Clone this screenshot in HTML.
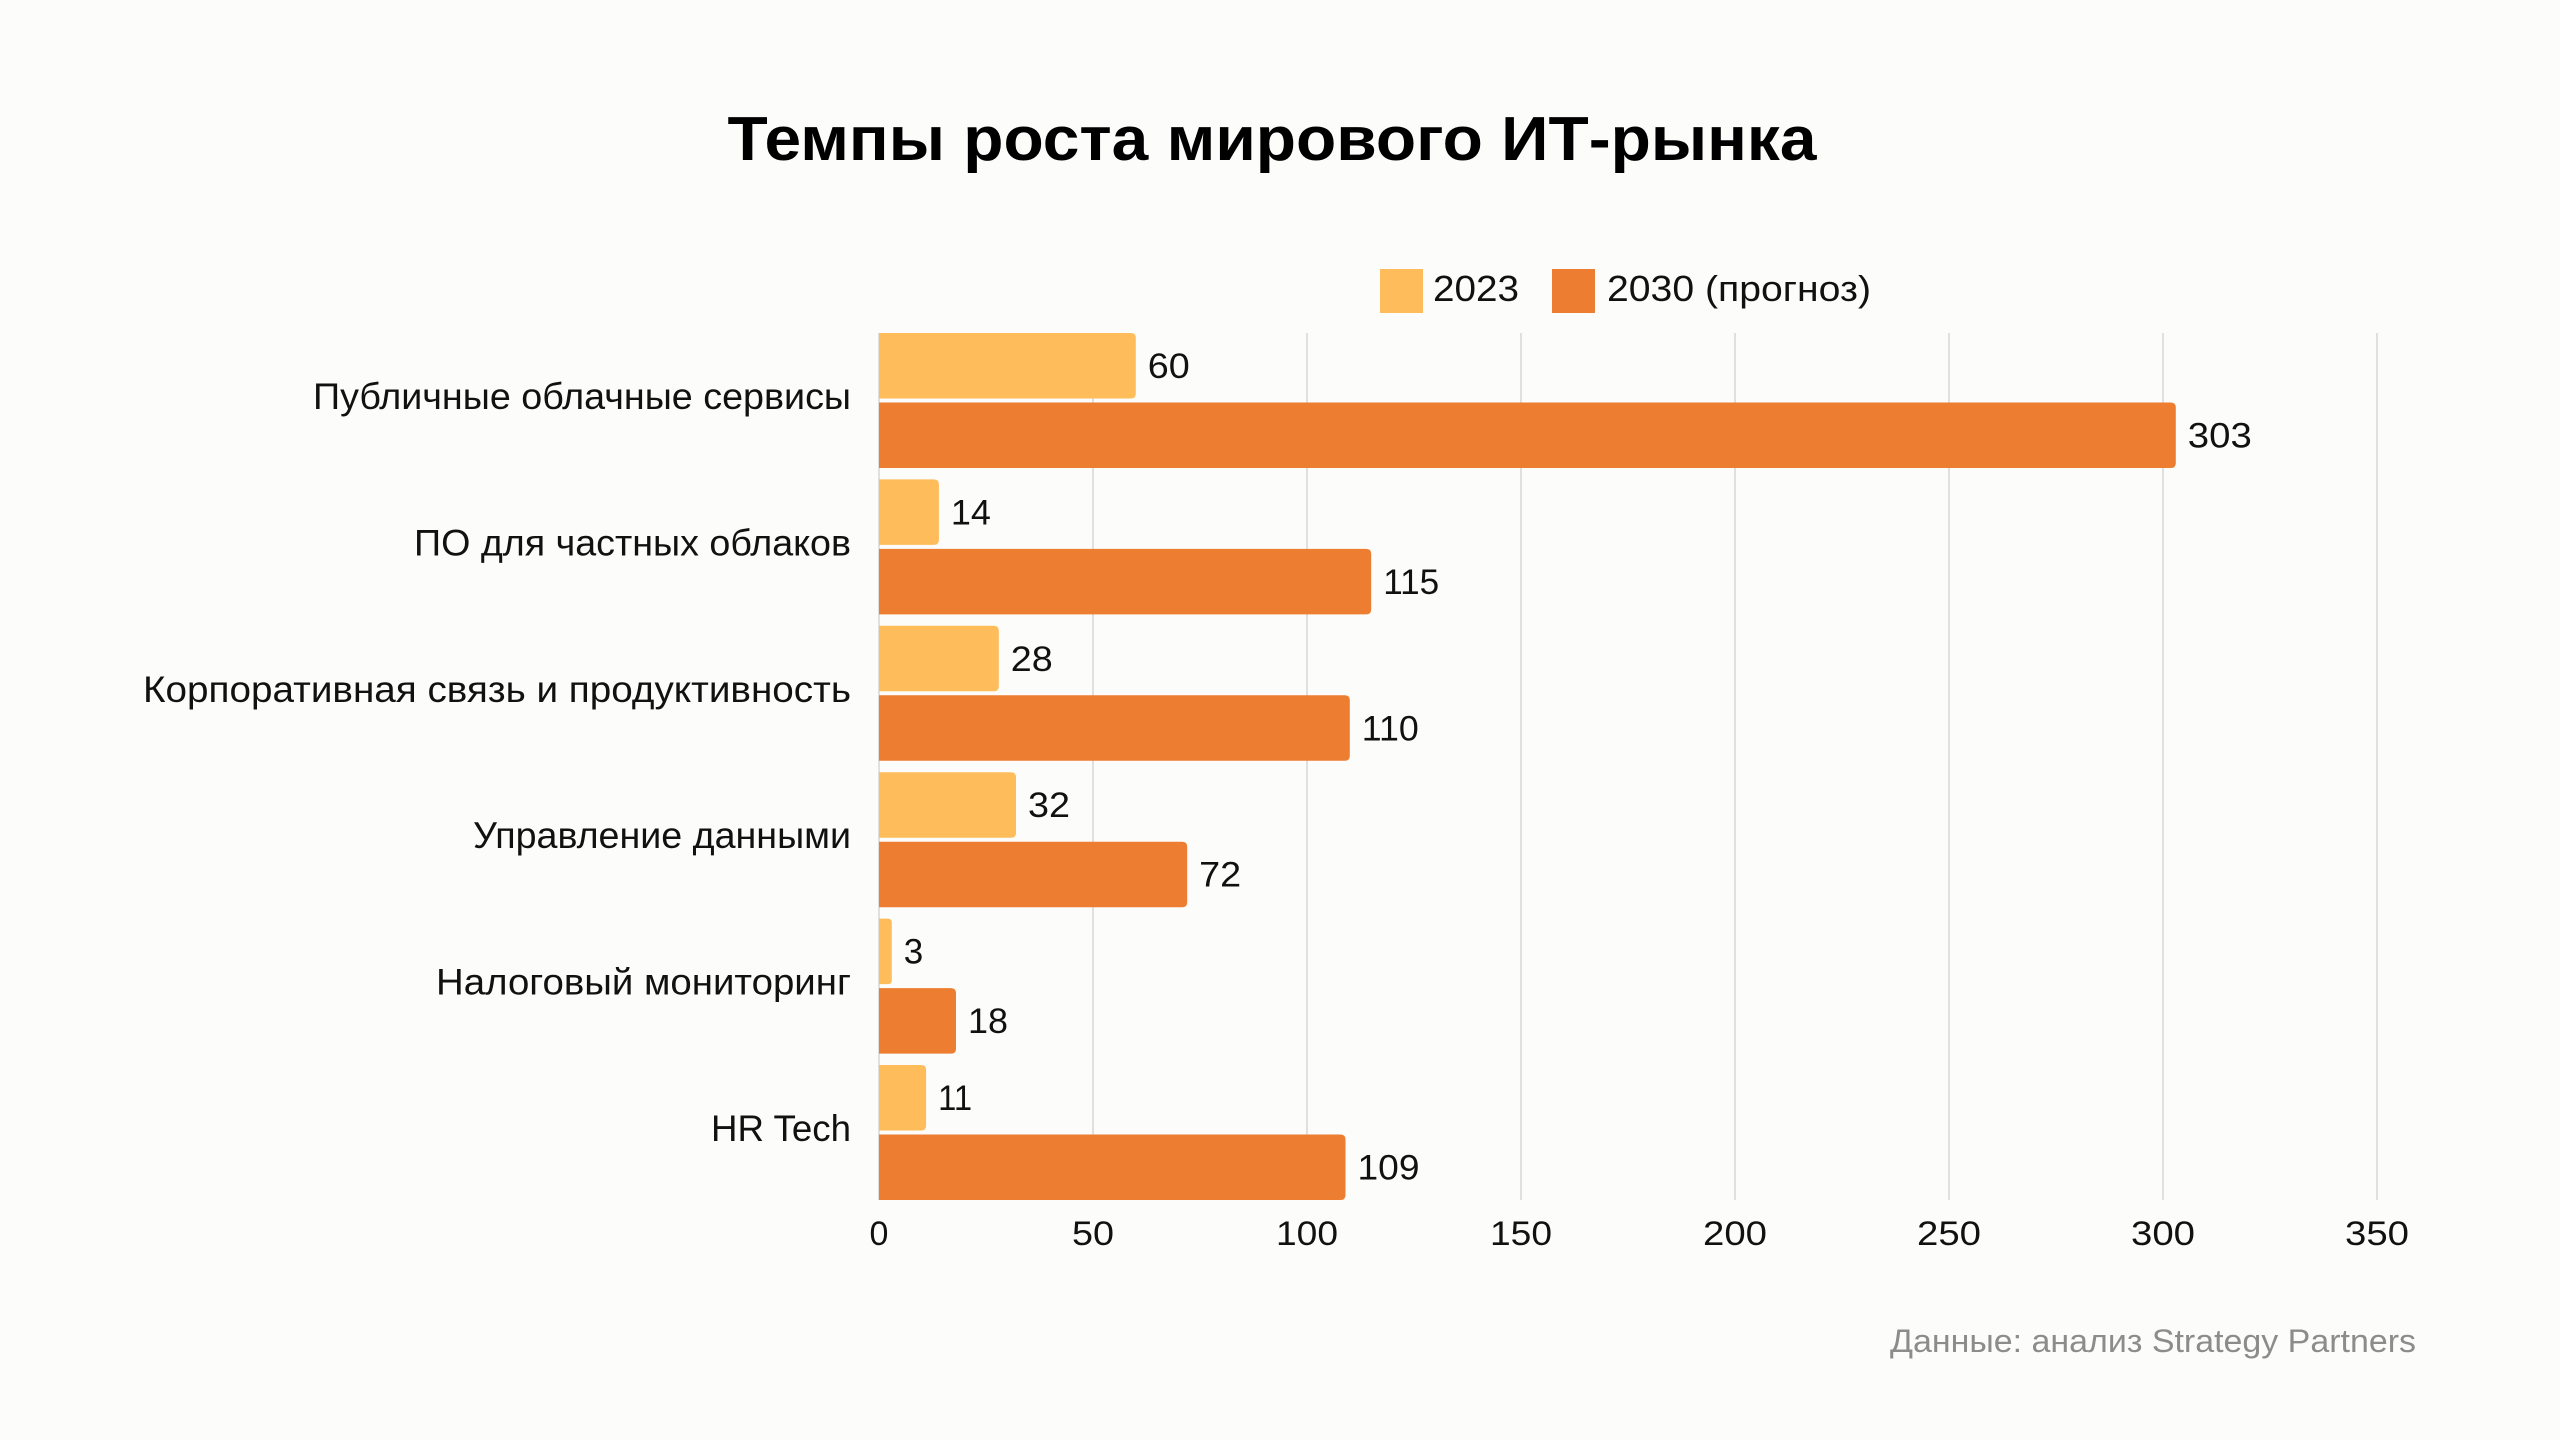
<!DOCTYPE html>
<html>
<head>
<meta charset="utf-8">
<style>
html,body{margin:0;padding:0;background:#FCFCFA;}
svg{display:block;}
text{font-family:"Liberation Sans","Noto Sans CJK SC",sans-serif;}
</style>
</head>
<body>
<svg width="2560" height="1440" viewBox="0 0 2560 1440" xmlns="http://www.w3.org/2000/svg">
<rect x="0" y="0" width="2560" height="1440" fill="#FCFCFA"/>
<text x="1272" y="160" font-size="62" font-weight="bold" text-anchor="middle" fill="#000" textLength="1089" lengthAdjust="spacingAndGlyphs">Темпы роста мирового ИТ-рынка</text>

<!-- legend -->
<rect x="1380" y="269" width="43" height="44" fill="#FEBC5A"/>
<text x="1433" y="301" font-size="36" fill="#111" textLength="86" lengthAdjust="spacingAndGlyphs">2023</text>
<rect x="1552" y="269" width="43" height="44" fill="#ED7D31"/>
<text x="1607" y="301" font-size="36" fill="#111" textLength="264" lengthAdjust="spacingAndGlyphs">2030 (прогноз)</text>

<!-- gridlines -->
<g stroke="#D6D6D6" stroke-width="1.5">
<line x1="879" y1="333" x2="879" y2="1200"/>
<line x1="1093" y1="333" x2="1093" y2="1200"/>
<line x1="1307" y1="333" x2="1307" y2="1200"/>
<line x1="1521" y1="333" x2="1521" y2="1200"/>
<line x1="1735" y1="333" x2="1735" y2="1200"/>
<line x1="1949" y1="333" x2="1949" y2="1200"/>
<line x1="2163" y1="333" x2="2163" y2="1200"/>
<line x1="2377" y1="333" x2="2377" y2="1200"/>
</g>

<!-- bars yellow -->
<g fill="#FEBC5A">
<path d="M879 333H1130.8Q1135.8 333 1135.8 338V393.5Q1135.8 398.5 1130.8 398.5H879Z"/>
<path d="M879 479.4H933.9Q938.9 479.4 938.9 484.4V539.9Q938.9 544.9 933.9 544.9H879Z"/>
<path d="M879 625.8H993.8Q998.8 625.8 998.8 630.8V686.3Q998.8 691.3 993.8 691.3H879Z"/>
<path d="M879 772.2H1011Q1016 772.2 1016 777.2V832.7Q1016 837.7 1011 837.7H879Z"/>
<path d="M879 918.6H887.8Q891.8 918.6 891.8 922.6V980.1Q891.8 984.1 887.8 984.1H879Z"/>
<path d="M879 1065H921.1Q926.1 1065 926.1 1070V1125.5Q926.1 1130.5 921.1 1130.5H879Z"/>
</g>
<!-- bars orange -->
<g fill="#ED7D31">
<path d="M879 402.5H2170.8Q2175.8 402.5 2175.8 407.5V463Q2175.8 468 2170.8 468H879Z"/>
<path d="M879 548.9H1366.2Q1371.2 548.9 1371.2 553.9V609.4Q1371.2 614.4 1366.2 614.4H879Z"/>
<path d="M879 695.3H1344.8Q1349.8 695.3 1349.8 700.3V755.8Q1349.8 760.8 1344.8 760.8H879Z"/>
<path d="M879 841.7H1182.2Q1187.2 841.7 1187.2 846.7V902.2Q1187.2 907.2 1182.2 907.2H879Z"/>
<path d="M879 988.1H951Q956 988.1 956 993.1V1048.6Q956 1053.6 951 1053.6H879Z"/>
<path d="M879 1134.5H1340.5Q1345.5 1134.5 1345.5 1139.5V1195Q1345.5 1200 1340.5 1200H879Z"/>
</g>

<!-- value labels -->
<g font-size="35" fill="#111">
<text x="1147.8" y="378" textLength="42" lengthAdjust="spacingAndGlyphs">60</text>
<text x="2187.8" y="447.5" textLength="64" lengthAdjust="spacingAndGlyphs">303</text>
<text x="950.9" y="524.4" textLength="40" lengthAdjust="spacingAndGlyphs">14</text>
<text x="1383.2" y="593.9" textLength="56" lengthAdjust="spacingAndGlyphs">115</text>
<text x="1010.8" y="670.8" textLength="42" lengthAdjust="spacingAndGlyphs">28</text>
<text x="1361.8" y="740.3" textLength="57" lengthAdjust="spacingAndGlyphs">110</text>
<text x="1028" y="817.2" textLength="42" lengthAdjust="spacingAndGlyphs">32</text>
<text x="1199.2" y="886.7" textLength="42" lengthAdjust="spacingAndGlyphs">72</text>
<text x="903.8" y="963.6">3</text>
<text x="968" y="1033.1" textLength="40" lengthAdjust="spacingAndGlyphs">18</text>
<text x="938.1" y="1110" textLength="34" lengthAdjust="spacingAndGlyphs">11</text>
<text x="1357.5" y="1179.5" textLength="62" lengthAdjust="spacingAndGlyphs">109</text>
</g>

<!-- category labels -->
<g font-size="37" fill="#111" text-anchor="end">
<text x="851" y="409" textLength="538" lengthAdjust="spacingAndGlyphs">Публичные облачные сервисы</text>
<text x="851" y="555.4" textLength="437" lengthAdjust="spacingAndGlyphs">ПО для частных облаков</text>
<text x="851" y="701.8" textLength="708" lengthAdjust="spacingAndGlyphs">Корпоративная связь и продуктивность</text>
<text x="851" y="848.2" textLength="378" lengthAdjust="spacingAndGlyphs">Управление данными</text>
<text x="851" y="994.6" textLength="415" lengthAdjust="spacingAndGlyphs">Налоговый мониторинг</text>
<text x="851" y="1141" textLength="140" lengthAdjust="spacingAndGlyphs">HR Tech</text>
</g>

<!-- x tick labels -->
<g font-size="34" fill="#111" text-anchor="middle">
<text x="879" y="1245">0</text>
<text x="1093" y="1245" textLength="42" lengthAdjust="spacingAndGlyphs">50</text>
<text x="1307" y="1245" textLength="62" lengthAdjust="spacingAndGlyphs">100</text>
<text x="1521" y="1245" textLength="62" lengthAdjust="spacingAndGlyphs">150</text>
<text x="1735" y="1245" textLength="64" lengthAdjust="spacingAndGlyphs">200</text>
<text x="1949" y="1245" textLength="64" lengthAdjust="spacingAndGlyphs">250</text>
<text x="2163" y="1245" textLength="64" lengthAdjust="spacingAndGlyphs">300</text>
<text x="2377" y="1245" textLength="64" lengthAdjust="spacingAndGlyphs">350</text>
</g>

<text x="2416" y="1352" font-size="32" fill="#8C8C8C" text-anchor="end" textLength="526" lengthAdjust="spacingAndGlyphs">Данные: анализ Strategy Partners</text>
</svg>
</body>
</html>
